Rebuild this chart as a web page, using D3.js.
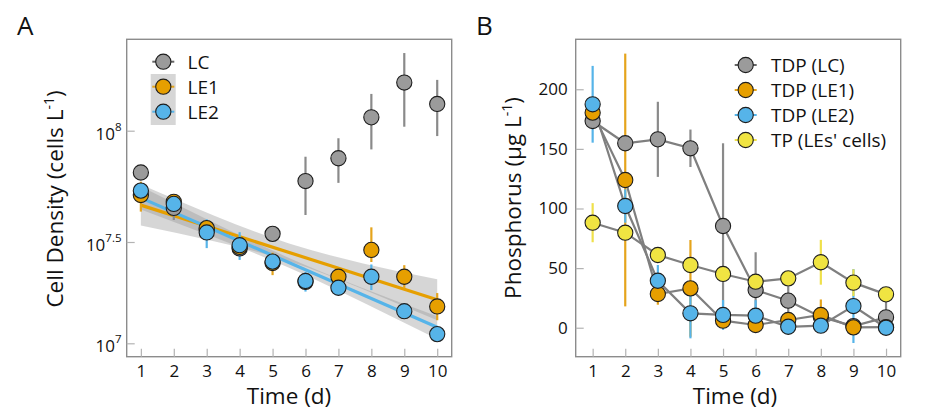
<!DOCTYPE html>
<html>
<head>
<meta charset="utf-8">
<script src="https://cdn.jsdelivr.net/npm/d3@7"></script>
<style>
  html, body { margin: 0; padding: 0; background: #ffffff; }
  svg { display: block; font-family: "Open Sans", "Noto Sans", sans-serif; }
</style>
</head>
<body>
<svg id="chart" width="931" height="419"></svg>
<script>
// ---------------- DATA ----------------
const days = [1, 2, 3, 4, 5, 6, 7, 8, 9, 10];

// Panel A: cell density (cells L^-1)
const densLC   = [6.49e7, 4.50e7, 3.58e7, 2.94e7, 3.44e7, 5.94e7, 7.52e7, 1.148e8, 1.644e8, 1.318e8];
const densLCLo = [6.30e7, 3.97e7, 3.45e7, 2.80e7, 3.35e7, 4.18e7, 5.83e7, 8.24e7, 1.042e8, 9.46e7];
const densLCHi = [6.70e7, 4.90e7, 3.70e7, 3.10e7, 3.55e7, 7.64e7, 9.25e7, 1.462e8, 2.23e8, 1.69e8];

const densLE1   = [5.14e7, 4.79e7, 3.65e7, 2.99e7, 2.49e7, 2.01e7, 2.13e7, 2.89e7, 2.13e7, 1.52e7];
const densLE1Lo = [4.33e7, 4.50e7, 3.50e7, 2.85e7, 2.17e7, 1.90e7, 1.95e7, 2.52e7, 1.87e7, 1.30e7];
const densLE1Hi = [5.90e7, 5.10e7, 3.80e7, 3.10e7, 2.80e7, 2.10e7, 2.30e7, 3.68e7, 2.43e7, 1.77e7];

const densLE2   = [5.38e7, 4.69e7, 3.49e7, 3.05e7, 2.53e7, 2.03e7, 1.88e7, 2.13e7, 1.44e7, 1.11e7];
const densLE2Lo = [5.10e7, 4.50e7, 2.95e7, 2.58e7, 2.35e7, 1.80e7, 1.80e7, 1.83e7, 1.33e7, 1.05e7];
const densLE2Hi = [5.60e7, 4.90e7, 4.00e7, 3.50e7, 2.70e7, 2.25e7, 1.95e7, 2.45e7, 1.55e7, 1.17e7];

// Regression fits (endpoints at day 1 and day 10) and their confidence bands
const fitDays   = [1, 10];
const fitLE1    = [4.63e7, 1.64e7];
const fitLE2    = [4.99e7, 1.20e7];
const bandDays  = [1, 3.25, 5.5, 7.75, 10];
const bandLE1Hi = [5.73e7, 4.14e7, 3.11e7, 2.48e7, 2.07e7];
const bandLE1Lo = [3.75e7, 3.18e7, 2.54e7, 1.85e7, 1.30e7];
const bandLE2Hi = [5.61e7, 3.84e7, 2.64e7, 1.87e7, 1.36e7];
const bandLE2Lo = [4.43e7, 3.31e7, 2.36e7, 1.59e7, 1.05e7];

const yTicksA      = [1e7, 3.1623e7, 1e8];
const yTickExpA    = ["7", "7.5", "8"];

// Panel B: phosphorus (µg L^-1)
const tdpLC    = [173.4, 154.7, 158.0, 150.5, 85.3, 31.6, 22.7, 9.0, 1.4, 8.7];
const tdpLCsd  = [3, 3, 31.5, 15.7, 69.4, 31.7, 12, 5, 2, 13];
const tdpLE1   = [180.4, 123.9, 28.3, 33.0, 5.9, 2.3, 6.5, 10.7, 0.3, 0.5];
const tdpLE1sd = [5, 106, 9, 40.6, 3, 3, 4, 13, 3, 2];
const tdpLE2   = [187.4, 102.1, 39.4, 12.1, 10.7, 10.1, 0.8, 1.7, 18.2, 0.0];
const tdpLE2sd = [32.2, 14, 13.2, 21, 12.5, 13, 3, 3, 31, 2];
const tpCells   = [88.1, 79.7, 61.0, 52.6, 45.1, 38.6, 41.4, 54.9, 37.8, 28.0];
const tpCellssd = [16.4, 5, 4, 5, 6, 5, 5, 18.8, 11.2, 4];

const yTicksB = [0, 50, 100, 150, 200];
const xTicks  = [1, 2, 3, 4, 5, 6, 7, 8, 9, 10];

// ---------------- STYLE ----------------
const colLC = "#9b9b9b", colLE1 = "#E69F00", colLE2 = "#56B4E9", colTP = "#F0E442";
const barLC = "#8a8a8a", barLE1 = "#E5A41C", barLE2 = "#56B4E9", barTP = "#EFE04A";
const frameCol = "#8c8c8c", tickCol = "#b3b3b3";
const R = 7.6;

const svg = d3.select("#chart");

// ---------------- SCALES ----------------
const A = {l: 126.7, r: 451.7, t: 39.3, b: 356.7};
const B = {l: 575.7, r: 900.7, t: 39.3, b: 356.7};

const xA = d3.scaleLinear().domain([0.57, 10.44]).range([A.l, A.r]);
const yA = d3.scaleLog()
  .domain([8.59e6, 1e7, 3.1623e7, 1e8, 2.57e8])
  .range([A.b, 343.3, 242, 130.7, A.t]);
const xB = d3.scaleLinear().domain([0.48, 10.45]).range([B.l, B.r]);
const yB = d3.scaleLinear().domain([-24.3, 241.9]).range([B.b, B.t]);

// ---------------- HELPERS ----------------
function frame(P) {
  svg.append("rect").attr("x", P.l).attr("y", P.t)
    .attr("width", P.r - P.l).attr("height", P.b - P.t)
    .attr("fill", "none").attr("stroke", frameCol).attr("stroke-width", 1.4);
}
function xAxis(P, x) {
  const g = svg.append("g").attr("transform", `translate(0,${P.b})`);
  g.call(d3.axisBottom(x).tickValues(xTicks).tickSizeInner(-8).tickSizeOuter(0).tickPadding(8));
  g.select(".domain").remove();
  g.selectAll(".tick line").attr("stroke", tickCol).attr("stroke-width", 1.2);
  g.selectAll(".tick text").attr("font-size", 17).attr("fill", "#111")
    .attr("font-family", "Open Sans, Noto Sans, sans-serif");
}
function errBars(g, x, y, xs, lo, hi, col) {
  g.selectAll(null).data(xs).enter().append("line")
    .attr("x1", d => x(d)).attr("x2", d => x(d))
    .attr("y1", (d, i) => y(lo[i])).attr("y2", (d, i) => y(hi[i]))
    .attr("stroke", col).attr("stroke-width", 2.2);
}
function points(g, x, y, xs, vals, col) {
  g.selectAll(null).data(xs).enter().append("circle")
    .attr("cx", d => x(d)).attr("cy", (d, i) => y(vals[i]))
    .attr("r", R).attr("fill", col).attr("stroke", "#1e1e1e").attr("stroke-width", 1.1);
}

// ================= PANEL A =================
frame(A);
xAxis(A, xA);
{
  const g = svg.append("g").attr("transform", `translate(${A.l},0)`);
  g.call(d3.axisLeft(yA).tickValues(yTicksA).tickSizeInner(-8).tickSizeOuter(0).tickFormat(""));
  g.select(".domain").remove();
  g.selectAll(".tick line").attr("stroke", tickCol).attr("stroke-width", 1.2);
  yTicksA.forEach((v, i) => {
    const t = svg.append("text").attr("x", 121.5).attr("y", yA(v) + 9)
      .attr("text-anchor", "end").attr("font-size", 17).attr("fill", "#111");
    t.append("tspan").text("10");
    t.append("tspan").attr("dy", -9).attr("font-size", 11.5).text(yTickExpA[i]);
  });
}
const gA = svg.append("g");
// confidence bands
const bandArea = (lo, hi) => d3.area()
  .x((d) => xA(d)).y0((d, i) => yA(lo[i])).y1((d, i) => yA(hi[i]))
  .curve(d3.curveNatural)(bandDays);
gA.append("path").attr("d", bandArea(bandLE1Lo, bandLE1Hi)).attr("fill", "#999999").attr("fill-opacity", 0.4);
gA.append("path").attr("d", bandArea(bandLE2Lo, bandLE2Hi)).attr("fill", "#999999").attr("fill-opacity", 0.4);
// fit lines
const fitLine = (vals) => d3.line().x(d => xA(d)).y((d, i) => yA(vals[i]))(fitDays);
gA.append("path").attr("d", fitLine(fitLE1)).attr("stroke", colLE1).attr("stroke-width", 3.2).attr("fill", "none");
gA.append("path").attr("d", fitLine(fitLE2)).attr("stroke", colLE2).attr("stroke-width", 3.2).attr("fill", "none");
// error bars + points
errBars(gA, xA, yA, days, densLCLo, densLCHi, barLC);
errBars(gA, xA, yA, days, densLE1Lo, densLE1Hi, barLE1);
errBars(gA, xA, yA, days, densLE2Lo, densLE2Hi, barLE2);
points(gA, xA, yA, days, densLC, colLC);
points(gA, xA, yA, days, densLE1, colLE1);
points(gA, xA, yA, days, densLE2, colLE2);

// legend A
{
  const lx = 163.3, ly = [61.7, 86.7, 111.7];
  const names = ["LC", "LE1", "LE2"], fills = [colLC, colLE1, colLE2], bars = ["#666666", barLE1, barLE2];
  svg.append("rect").attr("x", 150.7).attr("y", 74).attr("width", 25).attr("height", 51).attr("fill", "#d6d6d6");
  names.forEach((n, i) => {
    svg.append("line").attr("x1", lx - 11).attr("x2", lx + 11).attr("y1", ly[i]).attr("y2", ly[i])
      .attr("stroke", bars[i]).attr("stroke-width", 2);
    svg.append("circle").attr("cx", lx).attr("cy", ly[i]).attr("r", R)
      .attr("fill", fills[i]).attr("stroke", "#1e1e1e").attr("stroke-width", 1.1);
    svg.append("text").attr("x", 187.5).attr("y", ly[i] + 6.8).attr("font-size", 19).attr("fill", "#111").text(n);
  });
}
// titles A
svg.append("text").attr("x", 289).attr("y", 404).attr("text-anchor", "middle")
  .attr("font-size", 22.5).attr("fill", "#111").text("Time (d)");
{
  const t = svg.append("text").attr("transform", "translate(63,199) rotate(-90)")
    .attr("text-anchor", "middle").attr("font-size", 22.5).attr("fill", "#111");
  t.append("tspan").text("Cell Density (cells L");
  t.append("tspan").attr("dy", -9).attr("font-size", 14).text("-1");
  t.append("tspan").attr("dy", 9).text(")");
}
svg.append("text").attr("x", 17).attr("y", 35).attr("font-size", 26).attr("fill", "#111").text("A");

// ================= PANEL B =================
frame(B);
xAxis(B, xB);
{
  const g = svg.append("g").attr("transform", `translate(${B.l},0)`);
  g.call(d3.axisLeft(yB).tickValues(yTicksB).tickSizeInner(-8).tickSizeOuter(0).tickPadding(8));
  g.select(".domain").remove();
  g.selectAll(".tick line").attr("stroke", tickCol).attr("stroke-width", 1.2);
  g.selectAll(".tick text").attr("font-size", 17).attr("fill", "#111")
    .attr("font-family", "Open Sans, Noto Sans, sans-serif");
}
const gB = svg.append("g");
const seriesB = [
  {v: tdpLC,   sd: tdpLCsd,   fill: colLC,  bar: barLC},
  {v: tdpLE1,  sd: tdpLE1sd,  fill: colLE1, bar: barLE1},
  {v: tdpLE2,  sd: tdpLE2sd,  fill: colLE2, bar: barLE2},
  {v: tpCells, sd: tpCellssd, fill: colTP,  bar: barTP}
];
seriesB.forEach(s => {
  gB.append("path").attr("d", d3.line().x(d => xB(d)).y((d, i) => yB(s.v[i]))(days))
    .attr("fill", "none").attr("stroke", "#7f7f7f").attr("stroke-width", 2.2);
});
seriesB.forEach(s => {
  errBars(gB, xB, yB, days, s.v.map((d, i) => d - s.sd[i]), s.v.map((d, i) => d + s.sd[i]), s.bar);
});
seriesB.forEach(s => points(gB, xB, yB, days, s.v, s.fill));

// legend B
{
  const lx = 745.7, ly = [65, 90, 115, 140];
  const names = ["TDP (LC)", "TDP (LE1)", "TDP (LE2)", "TP (LEs' cells)"];
  seriesB.forEach((s, i) => {
    svg.append("line").attr("x1", lx - 11).attr("x2", lx + 11).attr("y1", ly[i]).attr("y2", ly[i])
      .attr("stroke", i === 0 ? "#666666" : s.bar).attr("stroke-width", 2);
    svg.append("circle").attr("cx", lx).attr("cy", ly[i]).attr("r", R)
      .attr("fill", s.fill).attr("stroke", "#1e1e1e").attr("stroke-width", 1.1);
    svg.append("text").attr("x", 771).attr("y", ly[i] + 6.8).attr("font-size", 19).attr("fill", "#111").text(names[i]);
  });
}
svg.append("text").attr("x", 735).attr("y", 404).attr("text-anchor", "middle")
  .attr("font-size", 22.5).attr("fill", "#111").text("Time (d)");
{
  const t = svg.append("text").attr("transform", "translate(521,198) rotate(-90)")
    .attr("text-anchor", "middle").attr("font-size", 22.5).attr("fill", "#111");
  t.append("tspan").text("Phosphorus (μg L");
  t.append("tspan").attr("dy", -9).attr("font-size", 14).text("-1");
  t.append("tspan").attr("dy", 9).text(")");
}
svg.append("text").attr("x", 476).attr("y", 35).attr("font-size", 26).attr("fill", "#111").text("B");
</script>
</body>
</html>
